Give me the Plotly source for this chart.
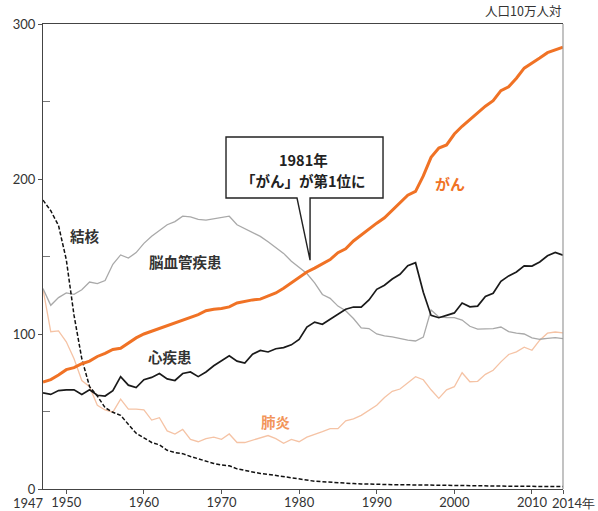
import plotly.graph_objects as go

years = list(range(1947, 2015))

cancer = [69.0, 70.6, 73.5, 77.0, 78.3, 80.8, 82.5, 85.5, 87.5, 90.0,
          90.8, 94.0, 97.5, 100.0, 101.8, 103.2, 105.0, 107.0, 108.5, 110.5,
          112.5, 115.0, 116.0, 116.5, 117.5, 120.0, 121.0, 122.0, 122.5, 124.5,
          126.5, 129.5, 133.0, 136.0, 140.0, 142.5, 145.5, 148.0, 152.5, 155.0,
          160.0, 164.0, 168.0, 171.5, 175.0, 180.0, 185.0, 189.5, 192.0, 202.0,
          214.0, 220.0, 222.0, 229.0, 234.0, 238.5, 243.0, 247.0, 250.5, 257.0,
          259.5, 265.0, 271.5, 274.5, 278.0, 281.5, 283.5, 285.0]

heart = [62.0, 61.0, 63.5, 64.0, 64.0, 61.0, 64.0, 60.5, 60.0, 63.5,
         72.5, 67.0, 65.5, 70.5, 72.0, 74.5, 71.0, 70.0, 74.5, 75.5,
         72.5, 75.5, 79.5, 82.5, 86.0, 82.5, 81.2, 87.0, 89.4, 88.4,
         90.5, 91.2, 93.0, 96.5, 104.5, 107.7, 106.3, 109.5, 113.0, 116.0,
         117.4, 117.4, 122.0, 128.8, 131.5, 135.5, 138.5, 144.0, 146.0, 127.0,
         112.0, 110.5, 112.0, 113.6, 120.0, 117.5, 118.0, 124.2, 126.3, 134.0,
         137.5, 140.0, 144.0, 143.8, 146.5, 150.5, 152.6, 150.8]

cerebro = [129.3, 118.5, 123.5, 126.5, 125.6, 128.5, 133.5, 132.5, 134.5, 145.0,
           151.0, 149.0, 152.5, 158.5, 163.0, 167.0, 170.5, 172.5, 176.0, 175.5,
           174.0, 173.5, 174.3, 175.5, 176.0, 170.5, 168.0, 166.0, 163.0, 159.5,
           155.5, 152.0, 147.0, 143.0, 139.0, 133.0, 125.5, 123.0, 118.0, 115.0,
           110.0, 104.0, 103.5, 100.0, 98.8, 98.2, 97.0, 96.0, 95.5, 98.0,
           115.5, 111.0, 110.6, 110.6, 109.0, 105.0, 103.2, 103.2, 103.5, 104.5,
           101.5, 100.5, 100.0, 97.5, 96.6, 97.2, 97.7, 97.0]

pneumonia = [129.0, 101.5, 102.0, 95.0, 84.0, 70.0, 66.0, 54.0, 51.0, 49.6,
             58.0, 51.5, 51.5, 51.0, 44.5, 46.0, 37.5, 35.5, 38.5, 32.0,
             30.5, 32.5, 33.5, 32.0, 35.5, 30.0, 30.0, 31.5, 33.0, 34.5,
             32.5, 29.5, 32.0, 30.5, 33.5, 35.0, 37.0, 38.9, 38.9, 44.0,
             45.3, 47.5, 51.0, 54.0, 59.0, 63.0, 64.5, 68.5, 72.5, 70.5,
             64.0, 58.5, 64.0, 66.0, 75.0, 69.2, 69.5, 74.0, 76.6, 82.0,
             86.8, 88.5, 91.5, 89.5, 96.0, 100.5, 101.3, 100.7]

tb = [186.4, 179.5, 170.0, 148.0, 112.0, 84.0, 66.0, 60.0, 52.5, 49.5,
      47.5, 42.0, 36.0, 33.0, 30.0, 28.5, 25.0, 23.5, 22.8, 21.0,
      19.5, 18.0, 16.5, 15.5, 15.0, 13.0, 12.0, 11.0, 10.0, 9.5,
      8.7, 8.0, 7.0, 6.2, 5.5, 5.0, 4.7, 4.3, 4.0, 3.7,
      3.5, 3.3, 3.1, 3.0, 2.9, 2.8, 2.7, 2.7, 2.6, 2.5,
      2.4, 2.5, 2.4, 2.1, 2.0, 1.9, 1.9, 1.8, 1.8, 1.8,
      1.7, 1.8, 1.7, 1.7, 1.7, 1.7, 1.6, 1.6]

x_tick_vals = [1950, 1960, 1970, 1980, 1990, 2000, 2010, 2014]
x_tick_text = ["1950", "1960", "1970", "1980", "1990", "2000", "2010", ""]
first_year_label = "1947"
last_year_label = "2014年"
y_tick_vals = [0, 100, 200, 300]

NUM_FONT = "Lato, 'Noto Sans', sans-serif"
JP_FONT = "'Noto Sans CJK JP', sans-serif"

fig = go.Figure()
fig.add_trace(go.Scatter(x=years, y=pneumonia, mode="lines",
                         line=dict(color="#F5C3A5", width=1.3), name="肺炎"))
fig.add_trace(go.Scatter(x=years, y=cerebro, mode="lines",
                         line=dict(color="#A9A9A9", width=1.3), name="脳血管疾患"))
fig.add_trace(go.Scatter(x=years, y=tb, mode="lines",
                         line=dict(color="#111111", width=1.5, dash="4px,2px"), name="結核"))
fig.add_trace(go.Scatter(x=years, y=heart, mode="lines",
                         line=dict(color="#1A1A1A", width=1.7), name="心疾患"))
fig.add_trace(go.Scatter(x=years, y=cancer, mode="lines",
                         line=dict(color="#F07225", width=3), name="がん"))

# callout box with pointer
fig.add_shape(type="path", xref="x", yref="y", layer="above",
              path="M 1970.58,227.1 L 1990.81,227.1 L 1990.81,187.7 L 1981.41,187.7 "
                   "L 1981.41,147.6 L 1979.73,187.7 L 1970.58,187.7 Z",
              line=dict(color="#222222", width=1.4), fillcolor="white")
# right border (lighter)
fig.add_shape(type="line", xref="paper", yref="paper", x0=1, x1=1, y0=0, y1=1,
              line=dict(color="#9A9A9A", width=1.2), layer="above")

def label(x, y, text, color="#333333", size=14.5, bold=True):
    fig.add_annotation(x=x, y=y, xref="x", yref="y", text=f"<b>{text}</b>" if bold else text,
                       showarrow=False, font=dict(family=JP_FONT, size=size, color=color),
                       xanchor="center", yanchor="middle")

label(1952.4, 163.7, "結核")
label(1965.3, 147.0, "脳血管疾患")
label(1963.4, 85.6, "心疾患")
label(1977.0, 43.6, "肺炎", color="#F2955A")
label(1999.4, 197.4, "がん", color="#F07225", size=15)
label(1980.6, 212.9, "1981年", color="#222222")
label(1980.6, 199.3, "「がん」が第1位に", color="#222222")

fig.add_annotation(x=1947, y=0, xref="x", yref="paper", text=first_year_label, showarrow=False,
                   xanchor="right", yanchor="top", xshift=3, yshift=-4,
                   font=dict(family=NUM_FONT, size=13, color="#333333"))
fig.add_annotation(x=2014, y=0, xref="x", yref="paper", text=last_year_label, showarrow=False,
                   xanchor="left", yanchor="top", xshift=-13, yshift=-4,
                   font=dict(family=NUM_FONT, size=13, color="#333333"))
fig.add_annotation(x=1, y=1.0, xref="paper", yref="paper", text="人口10万人対",
                   showarrow=False, xanchor="right", yanchor="bottom", yshift=2,
                   font=dict(family=JP_FONT, size=12.5, color="#333333"))

fig.update_layout(
    width=598, height=511,
    margin=dict(l=43, r=35, t=24, b=22, autoexpand=False),
    paper_bgcolor="white", plot_bgcolor="white",
    showlegend=False,
    xaxis=dict(range=[1947, 2014], tickvals=x_tick_vals, ticktext=x_tick_text,
               tickangle=0, ticklabelstandoff=-3,
               ticks="outside", ticklen=4, tickcolor="#555555", tickwidth=1,
               showgrid=False, zeroline=False, showline=True, linecolor="#444444",
               linewidth=1.2, mirror=True, automargin=False,
               tickfont=dict(family=NUM_FONT, size=13, color="#333333")),
    yaxis=dict(range=[0, 300], tickvals=y_tick_vals,
               ticks="outside", ticklen=4, tickcolor="#555555", tickwidth=1,
               minor=dict(tickvals=[50, 150, 250], ticks="inside", ticklen=7,
                          tickcolor="#777777", showgrid=False),
               showgrid=False, zeroline=False, showline=True, linecolor="#444444",
               linewidth=1.2, automargin=False,
               tickfont=dict(family=NUM_FONT, size=13, color="#333333")),
)

fig.write_html("out.html",
               config={"displayModeBar": False},
               post_script="document.body.style.margin='0';document.body.style.overflow='hidden';")
